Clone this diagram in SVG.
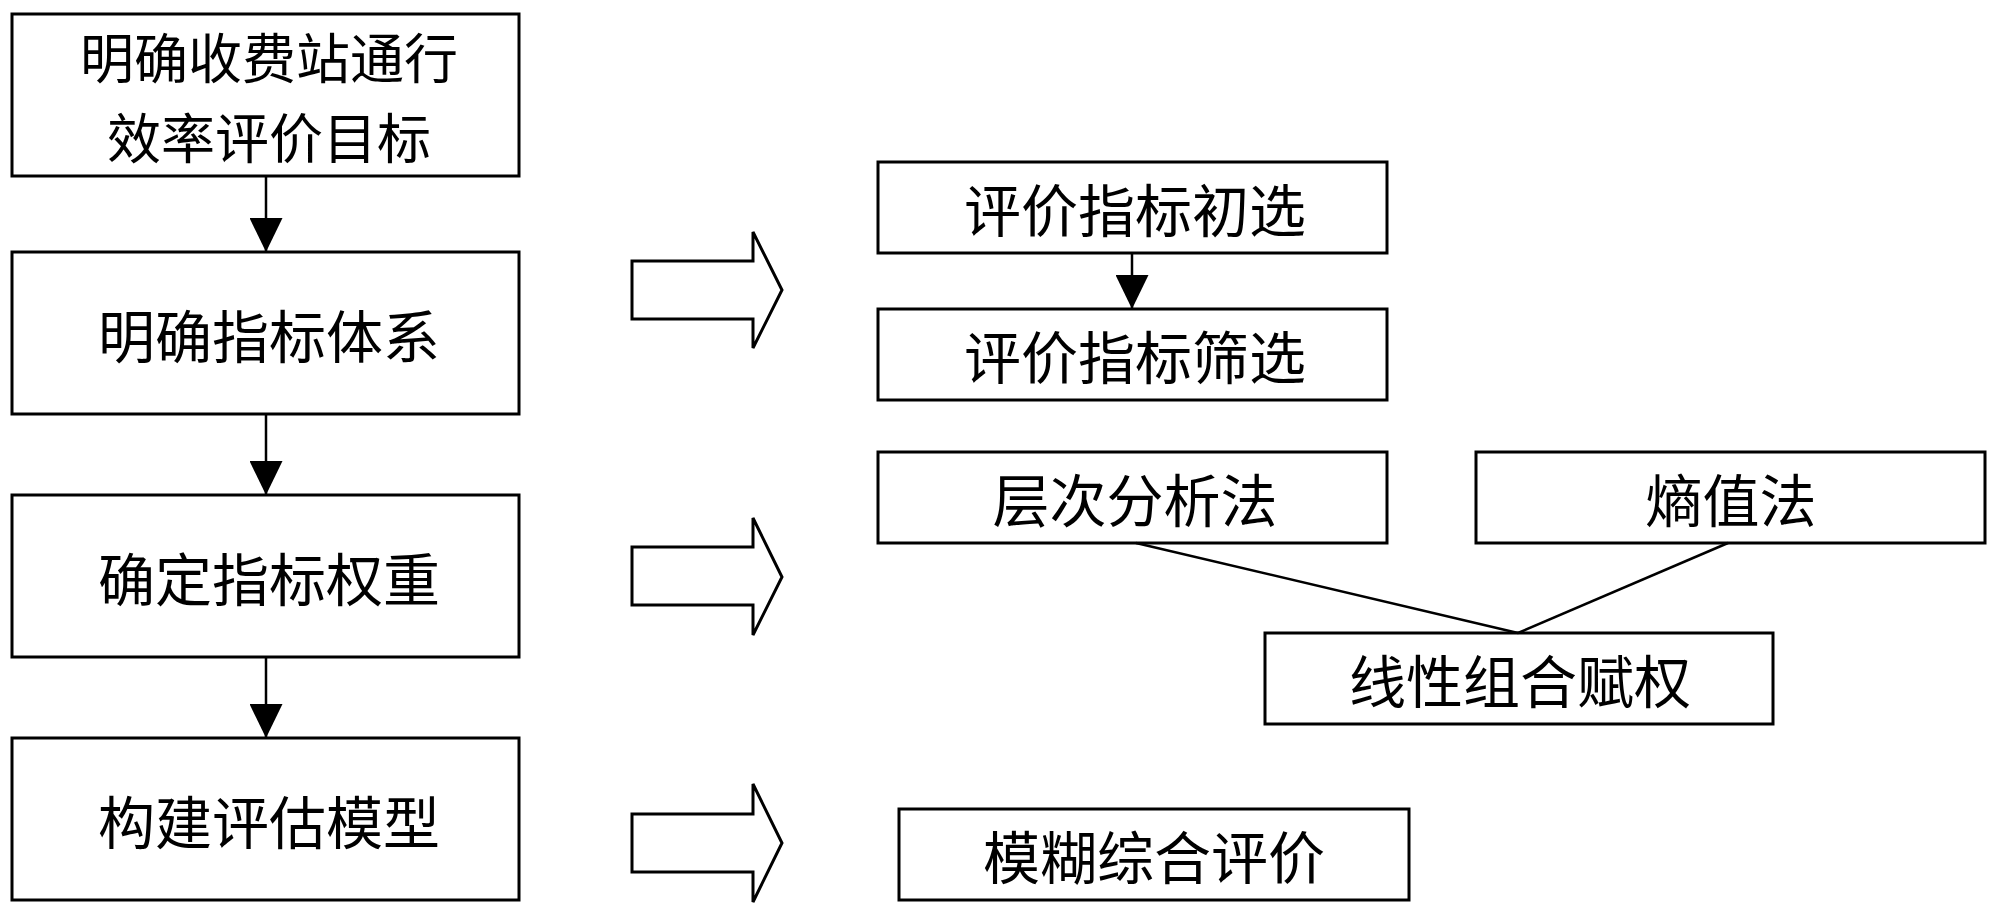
<svg xmlns="http://www.w3.org/2000/svg" width="1999" height="917" viewBox="0 0 1999 917">
<style>
.box{fill:#fff;stroke:#000;stroke-width:3}
.t{font-family:"Noto Sans CJK SC","Noto Sans CJK TC",sans-serif;font-size:57px;fill:#000;text-anchor:middle;dominant-baseline:central}
.t2{font-size:54px}
.ln{stroke:#000;stroke-width:2.5;fill:none}
.blk{fill:#fff;stroke:#000;stroke-width:3;stroke-linejoin:miter}
</style>
<defs>
<marker id="ah" viewBox="0 0 34 33" refX="34" refY="16.5" markerWidth="34" markerHeight="33" markerUnits="userSpaceOnUse" orient="auto">
<path d="M0,0 L34,16.5 L0,33 z" fill="#000"/>
</marker>
</defs>
<rect width="1999" height="917" fill="#fff"/>
<g id="n1"><rect class="box" x="12" y="14" width="507" height="162"/><text class="t t2" x="269" y="55"><tspan x="269" y="55">明确收费站通行</tspan><tspan x="269" y="135">效率评价目标</tspan></text></g>
<g id="n2"><rect class="box" x="12" y="252" width="507" height="162"/><text class="t" x="269" y="333">明确指标体系</text></g>
<g id="n3"><rect class="box" x="12" y="495" width="507" height="162"/><text class="t" x="269" y="576">确定指标权重</text></g>
<g id="n4"><rect class="box" x="12" y="738" width="507" height="162"/><text class="t" x="269" y="819">构建评估模型</text></g>
<g id="a1"><polygon class="blk" points="632,261 753,261 753,232 782,290 753,348 753,319 632,319"/></g>
<g id="a2"><polygon class="blk" points="632,547 753,547 753,518 782,577 753,635 753,605 632,605"/></g>
<g id="a3"><polygon class="blk" points="632,814 753,814 753,784 782,843 753,902 753,872 632,872"/></g>
<g id="n5"><rect class="box" x="878" y="162" width="509" height="91"/><text class="t" x="1135" y="207">评价指标初选</text></g>
<g id="n6"><rect class="box" x="878" y="309" width="509" height="91"/><text class="t" x="1135" y="354">评价指标筛选</text></g>
<g id="n7"><rect class="box" x="878" y="452" width="509" height="91"/><text class="t" x="1135" y="497">层次分析法</text></g>
<g id="n8"><rect class="box" x="1476" y="452" width="509" height="91"/><text class="t" x="1731" y="497">熵值法</text></g>
<g id="n9"><rect class="box" x="1265" y="633" width="508" height="91"/><text class="t" x="1520" y="678">线性组合赋权</text></g>
<g id="n10"><rect class="box" x="899" y="809" width="510" height="91"/><text class="t" x="1154" y="854">模糊综合评价</text></g>
<g id="connectors">
<line class="ln" x1="266" y1="176" x2="266" y2="252" marker-end="url(#ah)"/>
<line class="ln" x1="266" y1="414" x2="266" y2="495" marker-end="url(#ah)"/>
<line class="ln" x1="266" y1="657" x2="266" y2="738" marker-end="url(#ah)"/>
<line class="ln" x1="1132" y1="253" x2="1132" y2="309" marker-end="url(#ah)"/>
<line class="ln" x1="1136" y1="543" x2="1518" y2="633"/>
<line class="ln" x1="1728" y1="543" x2="1518" y2="633"/>
</g>
</svg>
